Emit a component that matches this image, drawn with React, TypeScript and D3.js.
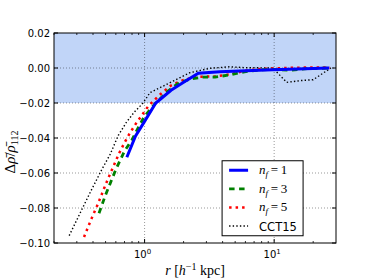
import React from "react";
import * as d3 from "d3";

// curve values (r in h^-1 kpc, value = delta rho / rho_112)
const blueR = [0.73, 0.85, 1.0, 1.22, 1.6, 2.0, 2.6, 3.8, 5.4, 9.7, 15, 26.6];
const blueV = [-0.051, -0.039, -0.0305, -0.02, -0.0127, -0.0082, -0.003, -0.0021, -0.0017, -0.001, -0.0006, 0];

const greenR = [0.445, 0.5, 0.6, 0.7, 0.8, 0.9, 1.0, 1.2, 1.5, 1.8, 2.2, 2.8, 3.5, 4.5, 5.9, 8, 10, 13, 18, 27];
const greenV = [-0.083, -0.0725, -0.058, -0.0475, -0.041, -0.0336, -0.0275, -0.0205, -0.0135, -0.009, -0.0065, -0.0052, -0.0052, -0.004, -0.0022, -0.001, -0.0008, -0.0013, -0.0004, 0];

const redR = [0.341, 0.368, 0.398, 0.432, 0.466, 0.501, 0.541, 0.638, 0.697, 0.771, 0.857, 0.959, 1.066, 1.3, 1.6, 2.0, 2.5, 3.5, 4.5, 6, 8, 12, 18, 27];
const redV = [-0.0966, -0.0905, -0.0844, -0.0785, -0.0724, -0.0665, -0.0606, -0.0486, -0.0429, -0.0371, -0.0318, -0.0267, -0.0219, -0.0155, -0.01, -0.0068, -0.005, -0.0048, -0.0037, -0.0015, -0.0005, 0, 0.0003, 0.0002];

const blackR = [0.262, 0.318, 0.39, 0.467, 0.541, 0.627, 0.727, 0.842, 0.975, 1.1, 1.57, 2.23, 3.18, 4.53, 5.9, 9.76, 12.5, 16, 20, 27.4];
const blackV = [-0.0958, -0.0829, -0.0695, -0.0581, -0.0495, -0.0385, -0.0308, -0.0248, -0.02, -0.0141, -0.0084, -0.0027, -0.0002, 0.0007, 0.0002, 0, -0.0082, -0.0072, -0.0067, 0];

const yTicks = [-0.1, -0.08, -0.06, -0.04, -0.02, 0, 0.02];
const xMajor = [1, 10];
const xMinor = [0.2, 0.3, 0.4, 0.5, 0.6, 0.7, 0.8, 0.9, 2, 3, 4, 5, 6, 7, 8, 9, 20];
const legendSubs = ["1", "3", "5"];

const W = 374, H = 280;
const margin = { top: 33, right: 38, bottom: 37, left: 54 };
const iw = W - margin.left - margin.right;
const ih = H - margin.top - margin.bottom;

const x = d3.scaleLog().domain([0.2, 30]).range([0, iw]);
const y = d3.scaleLinear().domain([-0.1, 0.02]).range([ih, 0]);

const line = d3.line<[number, number]>()
    .x(d => x(d[0]))
    .y(d => y(d[1]));

const pts = (r: number[], v: number[]) => r.map((d, i) => [d, v[i]] as [number, number]);

const series = [
    { data: pts(blackR, blackV), color: "#000", width: 1.4, dash: "1.4,2.2" },
    { data: pts(redR, redV), color: "#ff0000", width: 2.5, dash: "2.5,4" },
    { data: pts(greenR, greenV), color: "#008000", width: 2.8, dash: "5.5,4.5" },
    { data: pts(blueR, blueV), color: "#0000ff", width: 3, dash: undefined },
];

const sans = "'DejaVu Sans', sans-serif";
const serif = "'Liberation Serif', 'DejaVu Serif', serif";

function fmt(v: number) {
    const s = Math.abs(v).toFixed(2);
    return (v < -1e-9 ? "\u2212" : "") + s;
}

export default function App() {
    const legendItems = [
        { color: "#0000ff", width: 3, dash: undefined as string | undefined, sub: legendSubs[0] },
        { color: "#008000", width: 2.8, dash: "5.5,4.5", sub: legendSubs[1] },
        { color: "#ff0000", width: 2.5, dash: "2.5,4", sub: legendSubs[2] },
        { color: "#000", width: 1.4, dash: "1.4,2.2", sub: null },
    ];
    return (
        <svg width={W} height={H} style={{ position: "fixed", left: 0, top: 0, background: "#fff" }}>
            <defs>
                <clipPath id="plot">
                    <rect x={0} y={0} width={iw} height={ih} />
                </clipPath>
            </defs>
            <g transform={`translate(${margin.left},${margin.top})`}>
                <rect x={0} y={y(0.02)} width={iw} height={y(-0.02) - y(0.02)} fill="#c1d5f8" />
                {/* grid */}
                {xMajor.map(t => (
                    <line key={"gx" + t} x1={x(t)} x2={x(t)} y1={0} y2={ih}
                        stroke="#000" strokeOpacity={0.5} strokeWidth={0.8} strokeDasharray="1,2" />
                ))}
                {yTicks.slice(1, -1).map(t => (
                    <line key={"gy" + t} x1={0} x2={iw} y1={y(t)} y2={y(t)}
                        stroke="#000" strokeOpacity={0.5} strokeWidth={0.8} strokeDasharray="1,2" />
                ))}
                <g clipPath="url(#plot)">
                    {series.map((s, i) => (
                        <path key={i} d={line(s.data) || ""} fill="none" stroke={s.color}
                            strokeWidth={s.width} strokeDasharray={s.dash} />
                    ))}
                </g>
                {/* frame */}
                <rect x={0} y={0} width={iw} height={ih} fill="none" stroke="#000" strokeWidth={1} />
                {/* x ticks */}
                {xMajor.map(t => (
                    <g key={"xt" + t}>
                        <line x1={x(t)} x2={x(t)} y1={ih} y2={ih - 4} stroke="#000" />
                        <line x1={x(t)} x2={x(t)} y1={0} y2={4} stroke="#000" />
                        <text x={x(t) - 2} y={ih + 15} fontFamily={sans} fontSize={10} textAnchor="middle">
                            10<tspan fontSize={7} dy={-4}>{t === 1 ? "0" : "1"}</tspan>
                        </text>
                    </g>
                ))}
                {xMinor.map(t => (
                    <g key={"xm" + t}>
                        <line x1={x(t)} x2={x(t)} y1={ih} y2={ih - 2} stroke="#000" strokeWidth={0.8} />
                        <line x1={x(t)} x2={x(t)} y1={0} y2={2} stroke="#000" strokeWidth={0.8} />
                    </g>
                ))}
                {/* y ticks */}
                {yTicks.map(t => (
                    <g key={"yt" + t}>
                        <line x1={0} x2={4} y1={y(t)} y2={y(t)} stroke="#000" />
                        <line x1={iw} x2={iw - 4} y1={y(t)} y2={y(t)} stroke="#000" />
                        <text x={-4} y={y(t)} dy="0.35em" fontFamily={sans} fontSize={10} textAnchor="end">
                            {fmt(t)}
                        </text>
                    </g>
                ))}
                {/* axis labels */}
                <text x={iw / 2} y={ih + 32} fontFamily={serif} fontSize={14} textAnchor="middle">
                    <tspan fontStyle="italic">r</tspan> [<tspan fontStyle="italic">h</tspan>
                    <tspan fontSize={10} dy={-5}>{"\u22121"}</tspan>
                    <tspan dy={5}>{" kpc]"}</tspan>
                </text>
                <text transform={`translate(${-39},${ih / 2 + 14}) rotate(-90)`} fontFamily={serif}
                    fontSize={15} textAnchor="middle">
                    {"\u0394"}<tspan fontStyle="italic">{"\u03c1\u0304"}</tspan>/<tspan fontStyle="italic">{"\u03c1\u0304"}</tspan>
                    <tspan fontSize={10} dy={3}>112</tspan>
                </text>
                {/* legend */}
                <g transform={`translate(${x(9.3) - 48},${y(-0.053)})`}>
                    <rect x={0} y={0} width={81} height={75} fill="#fff" stroke="#000" strokeWidth={1} />
                    {legendItems.map((it, i) => (
                        <g key={i} transform={`translate(0,${9.5 + i * 18.6})`}>
                            <line x1={7} x2={26} y1={0} y2={0} stroke={it.color} strokeWidth={it.width}
                                strokeDasharray={it.dash} />
                            {it.sub ? (
                                <text x={37} y={4} fontFamily={serif} fontSize={13}>
                                    <tspan fontStyle="italic">n</tspan>
                                    <tspan fontStyle="italic" fontSize={9} dy={3}>f</tspan>
                                    <tspan dy={-3}>{"\u2009=\u20091".replace("1", it.sub)}</tspan>
                                </text>
                            ) : (
                                <text x={37} y={4.5} fontFamily={sans} fontSize={11.5}>CCT15</text>
                            )}
                        </g>
                    ))}
                </g>
            </g>
        </svg>
    );
}
